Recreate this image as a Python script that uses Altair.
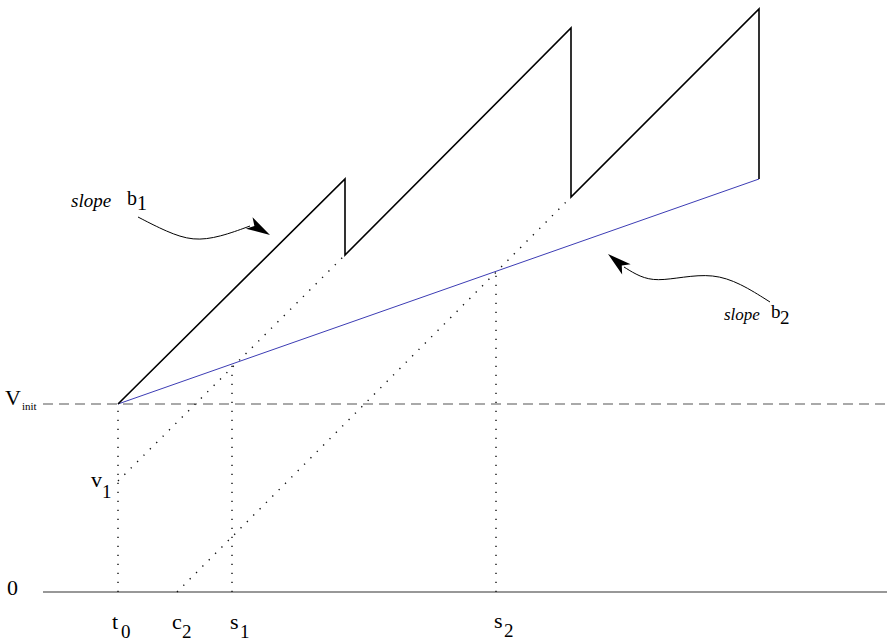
import altair as alt
import pandas as pd

# Horizontal axis: time; vertical axis: potential measured above the 0 level.
T_MIN, T_MAX = 0, 887
V_MIN, V_MAX = -50, 592

# Sawtooth trajectory (slope b1 with two resets)
saw_t = [118, 345, 345, 571, 571, 759, 759]
saw_v = [188, 413, 337, 564, 395, 583, 413]

# Straight trajectory with slope b2
lin_t = [118, 759]
lin_v = [188, 413]

# Dotted construction lines: (name, t, v) endpoints
dot_names = ["v1", "v1", "c2", "c2", "t0", "t0", "s1", "s1", "s2", "s2"]
dot_t = [118, 345, 177, 571, 118, 118, 232, 232, 496, 496]
dot_v = [111, 337, 0, 395, 0, 188, 0, 228, 0, 321]

# Reference levels: V_init (dashed) and 0 (solid)
lvl_t = [43, 887]
v_init = 188
v_zero = 0

# Annotation arrows: curve points and heads
b1_t = [138, 167, 193, 220, 250]
b1_v = [375, 360, 351, 355, 366]
b2_t = [770, 740, 713, 683, 657, 640, 624]
b2_v = [290, 309, 318, 315, 311, 315, 325]
head_t = [270, 608]
head_v = [357, 338]
head_angle = [30, 220]

# Upright labels: text, left t, baseline v, font size
lab_text = ["V", "init", "v", "1", "0", "t", "0", "c", "2", "s", "1", "s", "2",
            "b", "1", "b", "2"]
lab_t = [5, 22, 91, 102, 7, 112, 121, 172, 182, 230, 240, 494, 504,
         127, 137, 771, 780]
lab_v = [187, 182, 105, 94, -3, -37, -46, -37, -46, -37, -46, -36, -45,
         387, 382, 274, 268]
lab_size = [22, 11, 22, 19, 22, 22, 19, 22, 19, 22, 19, 22, 19,
            20, 20, 19, 19]

# Italic labels
ital_text = ["slope", "slope"]
ital_t = [71, 724]
ital_v = [385, 272]
ital_size = [19, 17]

SERIF = "Liberation Serif, Times New Roman, serif"

x_sc = alt.Scale(domain=[T_MIN, T_MAX], nice=False, zero=False)
y_sc = alt.Scale(domain=[V_MIN, V_MAX], nice=False, zero=False)
X = lambda f: alt.X(f, type="quantitative", scale=x_sc, axis=None)
Y = lambda f: alt.Y(f, type="quantitative", scale=y_sc, axis=None)

saw_df = pd.DataFrame({"t": saw_t, "v": saw_v, "i": range(len(saw_t))})
lin_df = pd.DataFrame({"t": lin_t, "v": lin_v})
dot_df = pd.DataFrame({"name": dot_names, "t": dot_t, "v": dot_v})
dash_df = pd.DataFrame({"t": lvl_t, "v": [v_init, v_init]})
zero_df = pd.DataFrame({"t": lvl_t, "v": [v_zero, v_zero]})
curve_df = pd.DataFrame({
    "name": ["b1"] * len(b1_t) + ["b2"] * len(b2_t),
    "t": b1_t + b2_t,
    "v": b1_v + b2_v,
    "i": list(range(len(b1_t))) + list(range(len(b2_t))),
})
head_df = pd.DataFrame({"t": head_t, "v": head_v, "a": head_angle})
lab_df = pd.DataFrame({"text": lab_text, "t": lab_t, "v": lab_v, "s": lab_size})
ital_df = pd.DataFrame({"text": ital_text, "t": ital_t, "v": ital_v, "s": ital_size})

saw = alt.Chart(saw_df).mark_line(color="#000000", strokeWidth=1.6).encode(
    x=X("t"), y=Y("v"), order="i:Q")

lin = alt.Chart(lin_df).mark_line(color="#3c3cb4", strokeWidth=1).encode(
    x=X("t"), y=Y("v"))

dots = alt.Chart(dot_df).mark_line(
    color="#111111", strokeWidth=1.4, strokeDash=[1.3, 7.7]).encode(
    x=X("t"), y=Y("v"), detail="name:N")

dash = alt.Chart(dash_df).mark_line(
    color="#555555", strokeWidth=1.1, strokeDash=[10, 6]).encode(
    x=X("t"), y=Y("v"))

zero = alt.Chart(zero_df).mark_line(color="#333333", strokeWidth=1.2).encode(
    x=X("t"), y=Y("v"))

curves = alt.Chart(curve_df).mark_line(
    color="#000000", strokeWidth=1, interpolate="basis").encode(
    x=X("t"), y=Y("v"), detail="name:N", order="i:Q")

arrow_path = "M0,0 L-2,-0.55 L-1.5,0 L-2,0.55 Z"
heads = alt.Chart(head_df).mark_point(
    shape=arrow_path, filled=True, color="#000000", opacity=1, size=576,
    strokeWidth=0).encode(
    x=X("t"), y=Y("v"), angle=alt.Angle("a:Q", scale=None))

labels = alt.Chart(lab_df).mark_text(
    font=SERIF, align="left", baseline="alphabetic",
    color="#000000").encode(
    x=X("t"), y=Y("v"), text="text:N", size=alt.Size("s:Q", scale=None))

ital = alt.Chart(ital_df).mark_text(
    font=SERIF, fontStyle="italic", align="left",
    baseline="alphabetic", color="#000000").encode(
    x=X("t"), y=Y("v"), text="text:N", size=alt.Size("s:Q", scale=None))

chart = alt.layer(
    dash, zero, dots, lin, saw, curves, heads, labels, ital
).properties(
    width=887, height=642, padding=0, autosize="none", background="white"
).configure_view(stroke=None)

chart.save("out.html", embed_options={"renderer": "svg", "actions": False})
